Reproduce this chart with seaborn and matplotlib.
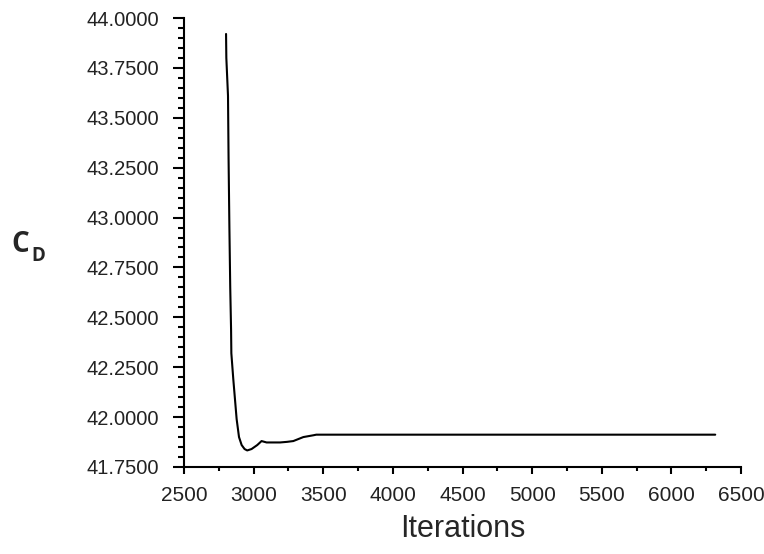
import matplotlib
matplotlib.use("Agg")
import matplotlib.pyplot as plt
import seaborn as sns
import numpy as np
from matplotlib.ticker import MultipleLocator, FormatStrFormatter

iterations = [2802, 2804, 2816, 2820, 2826, 2832, 2838, 2840, 2854, 2866, 2878, 2895, 2914, 2935, 2954,
              2985, 3026, 3057, 3093, 3190, 3240, 3285, 3357, 3429, 3450, 6315]
cd = [43.92, 43.80, 43.61, 43.30, 42.95, 42.65, 42.44, 42.32, 42.19, 42.09, 41.99, 41.90, 41.86, 41.840, 41.833,
      41.840, 41.86, 41.88, 41.873, 41.873, 41.876, 41.88, 41.90, 41.909, 41.912, 41.912]

x_ticks = [2500, 3000, 3500, 4000, 4500, 5000, 5500, 6000, 6500]
y_ticks = [41.75, 42.0, 42.25, 42.5, 42.75, 43.0, 43.25, 43.5, 43.75, 44.0]

sns.set_style("ticks")
plt.rcParams['font.family'] = ['Liberation Sans', 'DejaVu Sans']

fig = plt.figure(figsize=(7.64, 5.54), dpi=100)
ax = fig.add_axes([184/764, 1-467/554, (741-184)/764, (467-18)/554])

sns.lineplot(x=iterations, y=cd, ax=ax, color='black', linewidth=1.5, sort=False, estimator=None)

ax.set_xlim(2500, 6500)
ax.set_ylim(41.75, 44.0)
ax.set_xticks(x_ticks)
ax.set_yticks(y_ticks)
ax.xaxis.set_minor_locator(MultipleLocator(250))
ax.yaxis.set_minor_locator(MultipleLocator(0.05))
ax.yaxis.set_major_formatter(FormatStrFormatter('%.4f'))

for s in ['top', 'right']:
    ax.spines[s].set_visible(False)
for s in ['left', 'bottom']:
    ax.spines[s].set_linewidth(1.5)
    ax.spines[s].set_color('black')

ax.tick_params(axis='y', which='major', length=8, width=1.5, pad=10, labelsize=14.5, colors='black')
ax.tick_params(axis='y', which='minor', length=4.5, width=1.5, colors='black')
ax.tick_params(axis='x', which='major', length=5, width=1.5, pad=9, labelsize=15, colors='black')
ax.tick_params(axis='x', which='minor', length=3, width=1.5, colors='black')
for lbl in ax.get_xticklabels() + ax.get_yticklabels():
    lbl.set_color('#222222')

ax.set_xlabel('Iterations', fontsize=22, labelpad=6)
ax.set_ylabel('')

fig.text(11/764, 1-244/554, 'C', fontsize=20, fontweight='bold', family='Open Sans', va='center', ha='left')
fig.text(31/764, 1-256/554, 'D', fontsize=13.5, fontweight='bold', family='Open Sans', va='center', ha='left')

fig.savefig('out.png', dpi=100, facecolor='white')
